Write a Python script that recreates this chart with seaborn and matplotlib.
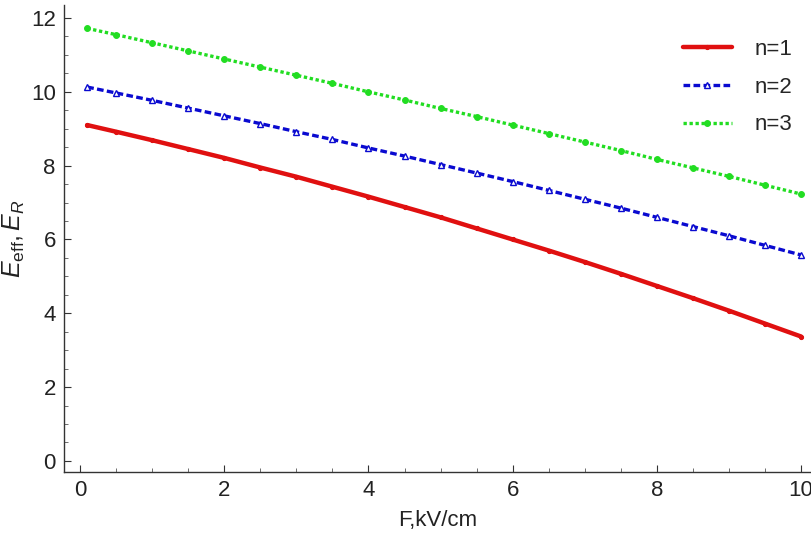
import matplotlib
matplotlib.use("Agg")
import matplotlib.pyplot as plt
import seaborn as sns
import pandas as pd
from matplotlib.ticker import MultipleLocator

# ---- data ----
F = [0.1, 0.5, 1.0, 1.5, 2.0, 2.5, 3.0, 3.5, 4.0, 4.5, 5.0,
     5.5, 6.0, 6.5, 7.0, 7.5, 8.0, 8.5, 9.0, 9.5, 10.0]
E_n1 = [9.10, 8.92, 8.69, 8.45, 8.21, 7.95, 7.70, 7.43, 7.16, 6.88, 6.60,
        6.30, 6.00, 5.70, 5.39, 5.07, 4.74, 4.41, 4.07, 3.72, 3.37]
E_n2 = [10.13, 9.97, 9.77, 9.56, 9.35, 9.14, 8.92, 8.71, 8.48, 8.26, 8.03,
        7.80, 7.57, 7.33, 7.09, 6.85, 6.60, 6.35, 6.10, 5.84, 5.58]
E_n3 = [11.72, 11.55, 11.33, 11.11, 10.89, 10.67, 10.45, 10.23, 10.00, 9.78, 9.55,
        9.33, 9.10, 8.87, 8.64, 8.41, 8.17, 7.94, 7.71, 7.47, 7.23]
labels = ["n=1", "n=2", "n=3"]
x_ticks = [0, 2, 4, 6, 8, 10]
y_ticks = [0, 2, 4, 6, 8, 10, 12]

sns.set_theme(style="ticks")
plt.rcParams["font.family"] = ["Liberation Sans", "DejaVu Sans"]
plt.rcParams["mathtext.fontset"] = "custom"
plt.rcParams["mathtext.it"] = "Liberation Sans:italic"
plt.rcParams["mathtext.rm"] = "Liberation Sans"

fig = plt.figure(figsize=(8.12, 5.33), dpi=100)
ax = fig.add_axes([0.079, 0.1144, 0.921, 0.876])

styles = [
    dict(color="#e01010", linestyle="-", linewidth=3.2, marker="o", markersize=3,
         markerfacecolor="#e01010", markeredgecolor="#e01010"),
    dict(color="#0a0ad0", linestyle=(0, (2, 1)), linewidth=2.4, marker="^", markersize=4,
         markerfacecolor="white", markeredgecolor="#0a0ad0", markeredgewidth=1.0),
    dict(color="#22dd22", linestyle=(0, (1, 0.8)), linewidth=2.4, marker="o", markersize=4.2,
         markerfacecolor="#22dd22", markeredgecolor="#22dd22"),
]
for ys, lab, st in zip([E_n1, E_n2, E_n3], labels, styles):
    df = pd.DataFrame({"F": F, "E": ys})
    sns.lineplot(data=df, x="F", y="E", ax=ax, label=lab, **st)

ax.set_xlim(-0.22, 10.15)
ax.set_ylim(-0.30, 12.35)
ax.set_xticks(x_ticks)
ax.set_yticks(y_ticks)
ax.xaxis.set_minor_locator(MultipleLocator(0.5))
ax.yaxis.set_minor_locator(MultipleLocator(0.5))
ax.tick_params(axis="both", which="major", direction="in", length=5, width=0.8,
               labelsize=16, colors="#333333", labelcolor="#222222", pad=6)
ax.tick_params(axis="both", which="minor", direction="in", length=3, width=0.6, colors="#555555")
for s in ["top", "right"]:
    ax.spines[s].set_visible(False)
for s in ["left", "bottom"]:
    ax.spines[s].set_color("#333333")
    ax.spines[s].set_linewidth(1.0)

ax.set_xlabel("F,kV/cm", fontsize=16, color="#222222", labelpad=6)
ax.set_ylabel(r"$E_{\mathrm{eff}},E_R$", fontsize=18, color="#222222", labelpad=3)

leg = ax.legend(loc="upper right", bbox_to_anchor=(1.0, 0.97), frameon=False,
                fontsize=16, handlelength=2.2, labelspacing=0.75, handletextpad=1.0)

fig.savefig("out.png", dpi=100)
